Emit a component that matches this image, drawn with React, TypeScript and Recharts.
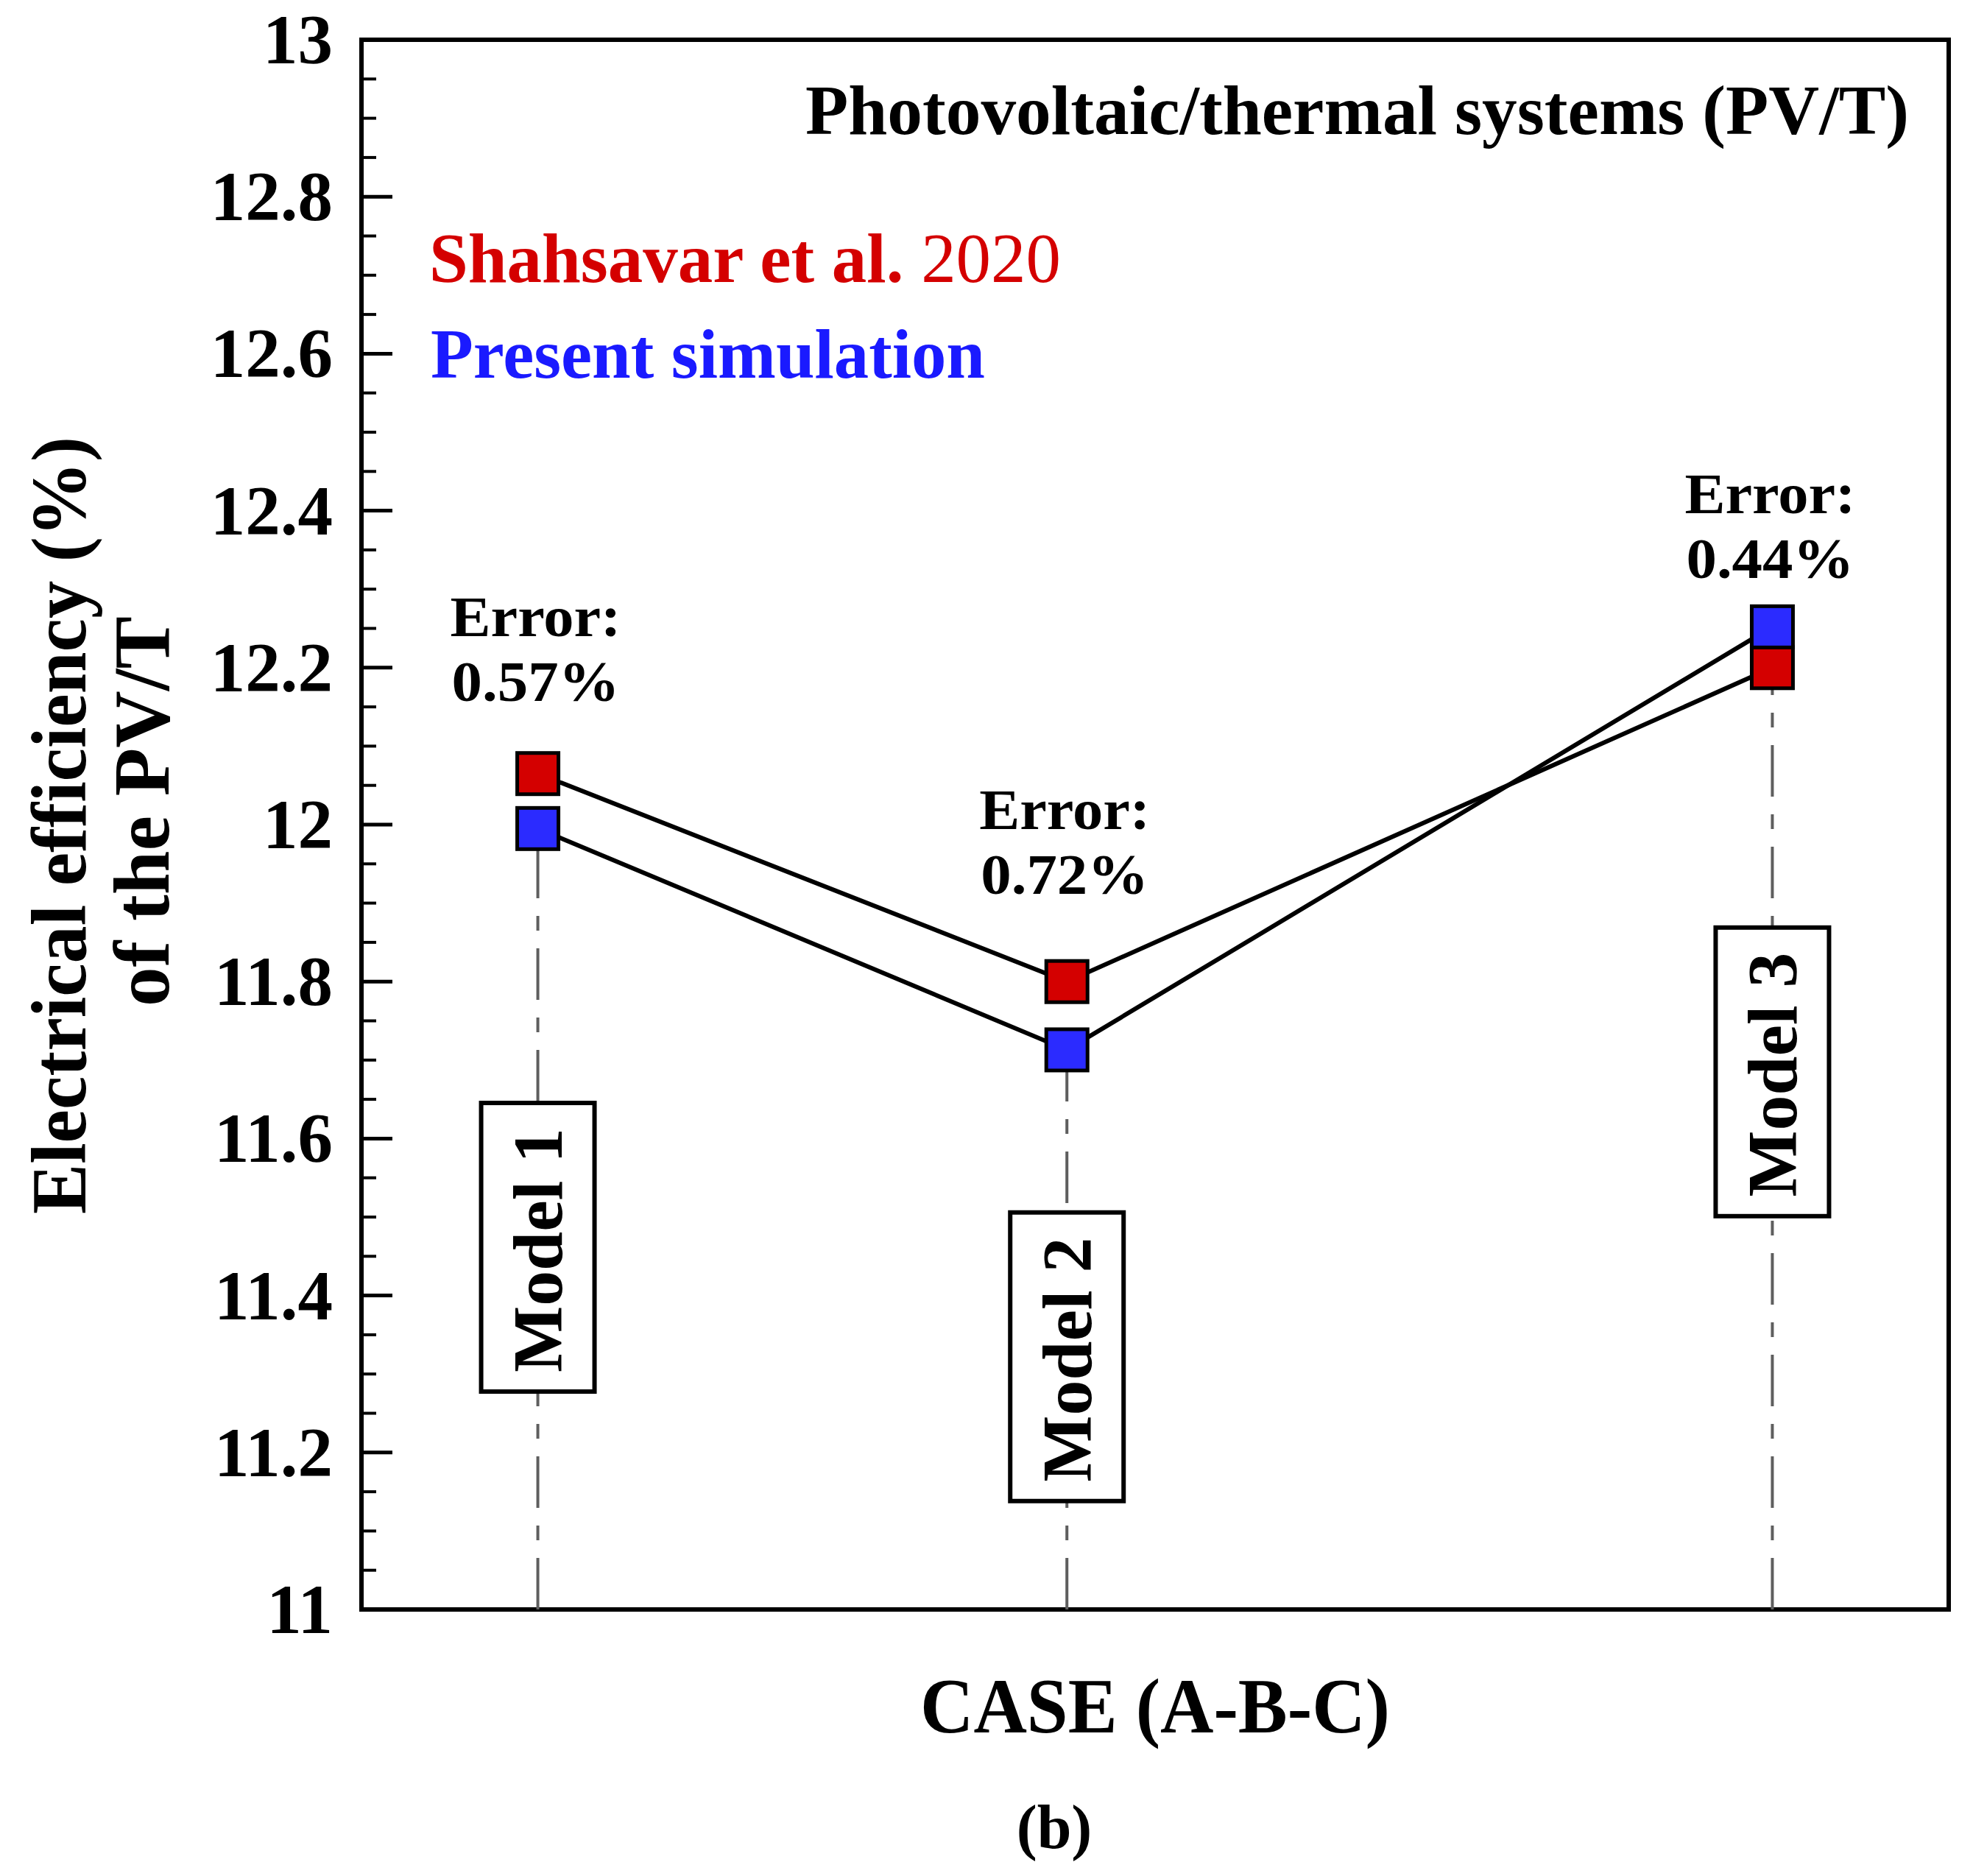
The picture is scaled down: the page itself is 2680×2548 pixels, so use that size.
import React from "react";
import { LineChart, Line, XAxis, YAxis, ReferenceLine, ReferenceDot, ReferenceArea } from "recharts";

// ---- data ----
const caseNames = ["Model 1", "Model 2", "Model 3"];
const casePositions = [1, 4, 8];
const shahsavar2020 = [12.065, 11.8, 12.2];
const presentSimulation = [11.995, 11.713, 12.252];
const errorTexts = ["0.57%", "0.72%", "0.44%"];
const errorLabelY = [12.24, 11.994, 12.397];
const modelBoxCenterY = [11.4615, 11.322, 11.685];
const xDomain = [0, 9];
const yDomain = [11, 13];
const yMajorTicks = [11, 11.2, 11.4, 11.6, 11.8, 12, 12.2, 12.4, 12.6, 12.8, 13];
const yMinorTicks = [
  11.05, 11.1, 11.15, 11.25, 11.3, 11.35, 11.45, 11.5, 11.55, 11.65, 11.7, 11.75,
  11.85, 11.9, 11.95, 12.05, 12.1, 12.15, 12.25, 12.3, 12.35, 12.45, 12.5, 12.55,
  12.65, 12.7, 12.75, 12.85, 12.9, 12.95,
];

const data = casePositions.map((x, i) => ({
  x,
  name: caseNames[i],
  shahsavar: shahsavar2020[i],
  present: presentSimulation[i],
}));
const allTicks = [...yMajorTicks, ...yMinorTicks].sort((a, b) => a - b);

const FONT = "'Liberation Serif', 'Times New Roman', serif";
const RED = "#d40000";
const BLUE = "#2b2bff";

const YTick = (props: any) => {
  const { x, y, payload } = props;
  const v = payload.value;
  const major = yMajorTicks.some((t) => Math.abs(t - v) < 1e-6);
  if (!major) {
    return <line x1={x} x2={x + 20} y1={y} y2={y} stroke="#000" strokeWidth={4} />;
  }
  return (
    <g>
      <line x1={x} x2={x + 42} y1={y} y2={y} stroke="#000" strokeWidth={5} />
      <text
        x={x - 39}
        y={y}
        textAnchor="end"
        dominantBaseline="central"
        fontFamily={FONT}
        fontWeight="bold"
        fontSize={95}
        fill="#000"
      >
        {String(v)}
      </text>
    </g>
  );
};

const squareDot = (fill: string) => (p: any) => {
  if (p.cx == null || p.cy == null) return <g key={p.key} />;
  return (
    <rect
      key={p.key}
      x={p.cx - 28}
      y={p.cy - 28}
      width={56}
      height={56}
      fill={fill}
      stroke="#000"
      strokeWidth={5}
    />
  );
};

export default function App() {
  return (
    <div style={{ position: "absolute", left: 0, top: 0, width: 2680, height: 2548, background: "#fff" }}>
      <LineChart
        width={2680}
        height={2548}
        data={data}
        margin={{ top: 54, right: 33, bottom: 0, left: 0 }}
      >
        <XAxis
          type="number"
          dataKey="x"
          domain={xDomain}
          height={362}
          tick={false}
          tickLine={false}
          axisLine={false}
        />
        <YAxis
          type="number"
          domain={yDomain}
          width={491}
          ticks={allTicks}
          interval={0}
          tickSize={0}
          tickMargin={0}
          tickLine={false}
          axisLine={false}
          tick={<YTick />}
        />
        <ReferenceArea
          x1={xDomain[0]}
          x2={xDomain[1]}
          y1={yDomain[0]}
          y2={yDomain[1]}
          fill="none"
          fillOpacity={0}
          stroke="#000"
          strokeWidth={6}
          ifOverflow="visible"
        />
        {casePositions.map((cx, i) => (
          <ReferenceLine
            key={"v" + i}
            segment={[
              { x: cx, y: yDomain[0] },
              { x: cx, y: Math.min(shahsavar2020[i], presentSimulation[i]) },
            ]}
            stroke="#5e5e5e"
            strokeWidth={4}
            strokeDasharray="70 24 20 24"
            ifOverflow="visible"
          />
        ))}
        {casePositions.map((cx, i) => (
          <ReferenceDot
            key={"b" + i}
            x={cx}
            y={modelBoxCenterY[i]}
            r={1}
            ifOverflow="visible"
            shape={(p: any) => (
              <g>
                <rect
                  x={p.cx - 77}
                  y={p.cy - 196}
                  width={154}
                  height={392}
                  fill="#fff"
                  stroke="#000"
                  strokeWidth={6}
                />
                <text
                  transform={`translate(${p.cx},${p.cy + 4}) rotate(-90)`}
                  textAnchor="middle"
                  dominantBaseline="central"
                  fontFamily={FONT}
                  fontWeight="bold"
                  fontSize={96}
                  textLength={332}
                  lengthAdjust="spacingAndGlyphs"
                  fill="#000"
                >
                  {caseNames[i]}
                </text>
              </g>
            )}
          />
        ))}
        <Line
          type="linear"
          dataKey="shahsavar"
          stroke="#000"
          strokeWidth={6}
          dot={squareDot(RED)}
          activeDot={false}
          isAnimationActive={false}
        />
        <Line
          type="linear"
          dataKey="present"
          stroke="#000"
          strokeWidth={6}
          dot={squareDot(BLUE)}
          activeDot={false}
          isAnimationActive={false}
        />
        {casePositions.map((cx, i) => (
          <ReferenceDot
            key={"e" + i}
            x={cx}
            y={errorLabelY[i]}
            r={1}
            ifOverflow="visible"
            shape={(p: any) => (
              <text
                x={p.cx - 3}
                y={p.cy}
                textAnchor="middle"
                fontFamily={FONT}
                fontWeight="bold"
                fontSize={78}
                fill="#000"
              >
                <tspan x={p.cx - 3} dy={0} textLength={232} lengthAdjust="spacingAndGlyphs">
                  Error:
                </tspan>
                <tspan x={p.cx - 3} dy={88} textLength={228} lengthAdjust="spacingAndGlyphs">
                  {errorTexts[i]}
                </tspan>
              </text>
            )}
          />
        ))}
      </LineChart>
      <svg
        width={2680}
        height={2548}
        style={{ position: "absolute", left: 0, top: 0, pointerEvents: "none" }}
      >
        <g fontFamily={FONT} fontWeight="bold">
          <text
            transform="translate(80,1121) rotate(-90)"
            textAnchor="middle"
            dominantBaseline="central"
            fontSize={106}
            textLength={1056}
            lengthAdjust="spacingAndGlyphs"
            fill="#000"
          >
            Electrical efficiency (%)
          </text>
          <text
            transform="translate(192,1102) rotate(-90)"
            textAnchor="middle"
            dominantBaseline="central"
            fontSize={108}
            textLength={530}
            lengthAdjust="spacingAndGlyphs"
            fill="#000"
          >
            of the PV/T
          </text>
          <text
            x={1569}
            y={2353}
            textAnchor="middle"
            fontSize={106}
            textLength={638}
            lengthAdjust="spacingAndGlyphs"
            fill="#000"
          >
            CASE (A-B-C)
          </text>
          <text x={1432} y={2510} textAnchor="middle" fontSize={84} fill="#000">
            (b)
          </text>
          <text
            x={2593}
            y={182}
            textAnchor="end"
            fontSize={96}
            textLength={1499}
            lengthAdjust="spacingAndGlyphs"
            fill="#000"
          >
            Photovoltaic/thermal systems (PV/T)
          </text>
          <text
            x={583}
            y={383}
            fontSize={96}
            textLength={858}
            lengthAdjust="spacingAndGlyphs"
            fill={RED}
          >
            Shahsavar et al. <tspan fontWeight="normal">2020</tspan>
          </text>
          <text
            x={585}
            y={513}
            fontSize={96}
            textLength={753}
            lengthAdjust="spacingAndGlyphs"
            fill="#1a1aff"
          >
            Present simulation
          </text>
        </g>
      </svg>
    </div>
  );
}
